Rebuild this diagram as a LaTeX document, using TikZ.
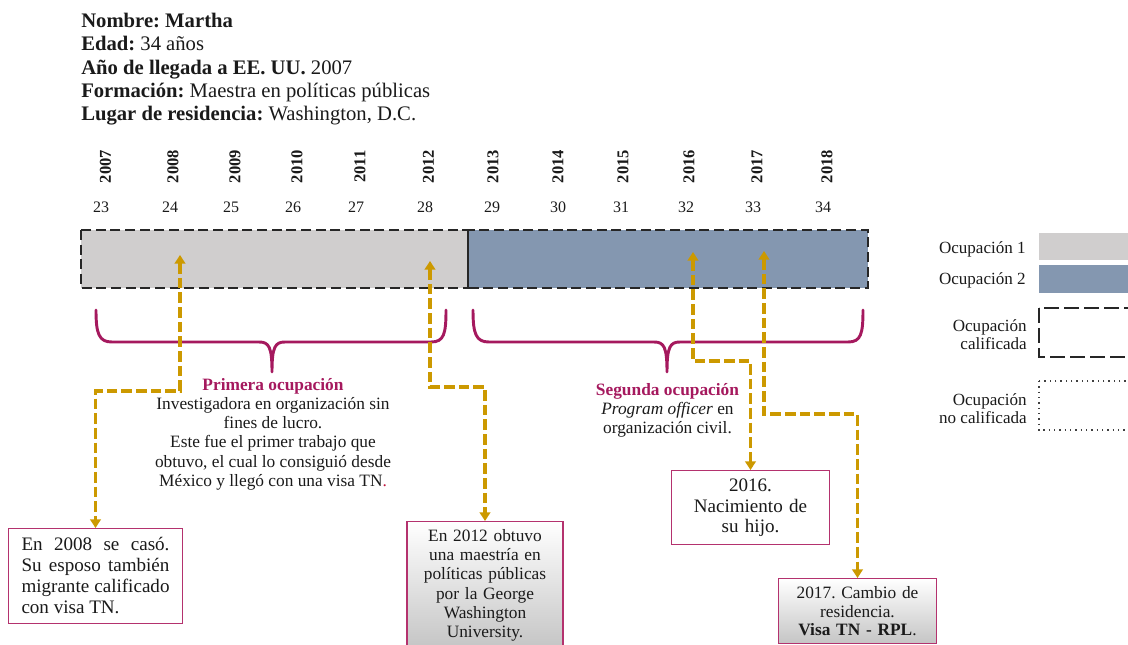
\documentclass[tikz,border=0pt]{standalone}
\usepackage{fontspec}
\setmainfont{Liberation Serif}
\usetikzlibrary{arrows.meta}
\frenchspacing

\definecolor{occone}{HTML}{D0CECE}
\definecolor{occtwo}{HTML}{8497B0}
\definecolor{crimson}{HTML}{A5195E}
\definecolor{boxline}{HTML}{B4326E}
\definecolor{gold}{HTML}{CC9900}
\definecolor{ink}{HTML}{1A1A1A}
\definecolor{tnred}{HTML}{C0143C}

\begin{document}
\begin{tikzpicture}[x=0.75pt,y=-0.75pt,
  txt/.style={inner sep=0pt, text=ink},
  yearlbl/.style={txt, rotate=90, font=\fontsize{12.4}{14}\selectfont\bfseries},
  agelbl/.style={txt, font=\fontsize{12}{14}\selectfont},
  barline/.style={draw=black!85, line width=1.5pt, dash pattern=on 7.5pt off 3.5pt},
  brace/.style={draw=crimson, line width=2.2pt, line cap=round, line join=round},
  link/.style={draw=gold, line width=2.5pt, dash pattern=on 8pt off 3pt,
    {Triangle[width=8pt,length=6.5pt]}-{Triangle[width=8pt,length=6.5pt]}},
  bodytxt/.style={txt, align=center, font=\fontsize{13}{14.4}\selectfont},
  evbox/.style={draw=boxline, line width=0.8pt, fill=white, text=ink, inner ysep=6pt},
  shadedbox/.style={evbox, top color=white, bottom color=black!23},
  legtxt/.style={txt, align=right, font=\fontsize{12.8}{13.5}\selectfont}
]
\clip (0,0) rectangle (1128,645);

% personal data
\node[txt, anchor=north west, align=left, font=\fontsize{15.5}{17.5}\selectfont] (info) at (81,13)
  {\textbf{Nombre: Martha}\\
   \textbf{Edad:} 34 años\\
   \textbf{Año de llegada a EE. UU.} 2007\\
   \textbf{Formación:} Maestra en políticas públicas\\
   \textbf{Lugar de residencia:} Washington, D.C.};

% years and ages
\foreach \yr/\xx/\ag/\ax in {2007/105.5/23/101, 2008/173/24/170, 2009/235/25/231,
  2010/297/26/293, 2011/360/27/356, 2012/428.5/28/425, 2013/493/29/492,
  2014/558/30/558, 2015/623/31/621, 2016/689/32/686, 2017/757/33/753, 2018/827/34/823}{
  \node[yearlbl] (yr\yr) at (\xx,166.5) {\yr};
  \node[agelbl] (ag\yr) at (\ax,207) {\ag};
}

% occupation bar
\fill[occone] (81,230) rectangle (468,288);
\fill[occtwo] (468,230) rectangle (868,288);
\draw[barline] (81,230) rectangle (468,288);
\draw[barline] (468,230) rectangle (868,288);

% braces
\draw[brace] (96,310) .. controls (96,334) and (99,342) .. (112,342) -- (259,342)
  .. controls (269,342) and (272,347) .. (272,372)
  .. controls (272,347) and (275,342) .. (285,342) -- (431,342)
  .. controls (444,342) and (446,334) .. (446,310);
\draw[brace] (473,310) .. controls (473,334) and (476,342) .. (489,342) -- (654,342)
  .. controls (664,342) and (667,347) .. (667,372)
  .. controls (667,347) and (670,342) .. (680,342) -- (848,342)
  .. controls (861,342) and (863,334) .. (863,310);

% occupation descriptions
\node[bodytxt, anchor=north] (first) at (273,378)
  {{\color{crimson}\bfseries Primera ocupación}\\
   Investigadora en organización sin\\
   fines de lucro.\\
   Este fue el primer trabajo que\\
   obtuvo, el cual lo consiguió desde\\
   México y llegó con una visa TN{\color{tnred}.}};
\node[bodytxt, anchor=north] (second) at (667.5,383)
  {{\color{crimson}\bfseries Segunda ocupación}\\
   \textit{Program officer} en\\
   organización civil.};

% events
\node[evbox, anchor=north, inner xsep=10pt, minimum height=71pt, align=left,
  font=\fontsize{14.3}{15.75}\selectfont] (ev08) at (95.5,528)
  {\makebox[111pt][s]{En 2008 se casó.}\\
   \makebox[111pt][s]{Su esposo también}\\
   \makebox[111pt][s]{migrante calificado}\\
   con visa TN.};
\node[shadedbox, anchor=north, text width=105pt, inner xsep=6pt, align=center,
  font=\fontsize{13}{14.4}\selectfont] (ev12) at (485,521)
  {En 2012 obtuvo\\ una maestría en\\ políticas públicas\\ por la George\\ Washington\\ University.};
\node[evbox, anchor=north, text width=106pt, inner xsep=6pt, minimum height=55.5pt, align=center,
  font=\fontsize{14.3}{15.6}\selectfont] (ev16) at (750.5,470)
  {2016.\\ Nacimiento de\\ su hijo.};
\node[shadedbox, anchor=north, text width=106pt, inner xsep=6pt, align=center,
  font=\fontsize{13}{13.9}\selectfont] (ev17) at (857.5,578)
  {2017. Cambio de\\ residencia.\\ \textbf{Visa TN - RPL}.};

% links from the bar to the events
\coordinate (m08) at (180,255);
\coordinate (m12) at (430,261);
\coordinate (m16) at (693,252);
\coordinate (m17) at (764,251);
\draw[link] (m08) -- ++(0,136) -| (ev08.north);
\draw[link] (m12) -- ++(0,126) -| (ev12.north);
\draw[link] (m16) -- ++(0,109) -| (ev16.north);
\draw[link] (m17) -- ++(0,163) -| (ev17.north);

% legend
\fill[occone] (1039,233) rectangle (1140,260);
\fill[occtwo] (1039,265) rectangle (1140,293);
\draw[black!85, line width=1.5pt, dash pattern=on 11pt off 4pt] (1039,308) rectangle (1140,357);
\draw[black!75, line width=1pt, dash pattern=on 1pt off 3pt] (1039,381) rectangle (1140,430);
\node[legtxt, anchor=east] (lg1) at (1026,249) {Ocupación 1};
\node[legtxt, anchor=east] (lg2) at (1026,280) {Ocupación 2};
\node[legtxt, anchor=east] (lg3) at (1027,335) {Ocupación\\ calificada};
\node[legtxt, anchor=east] (lg4) at (1027,409) {Ocupación\\ no calificada};
\end{tikzpicture}
\end{document}
